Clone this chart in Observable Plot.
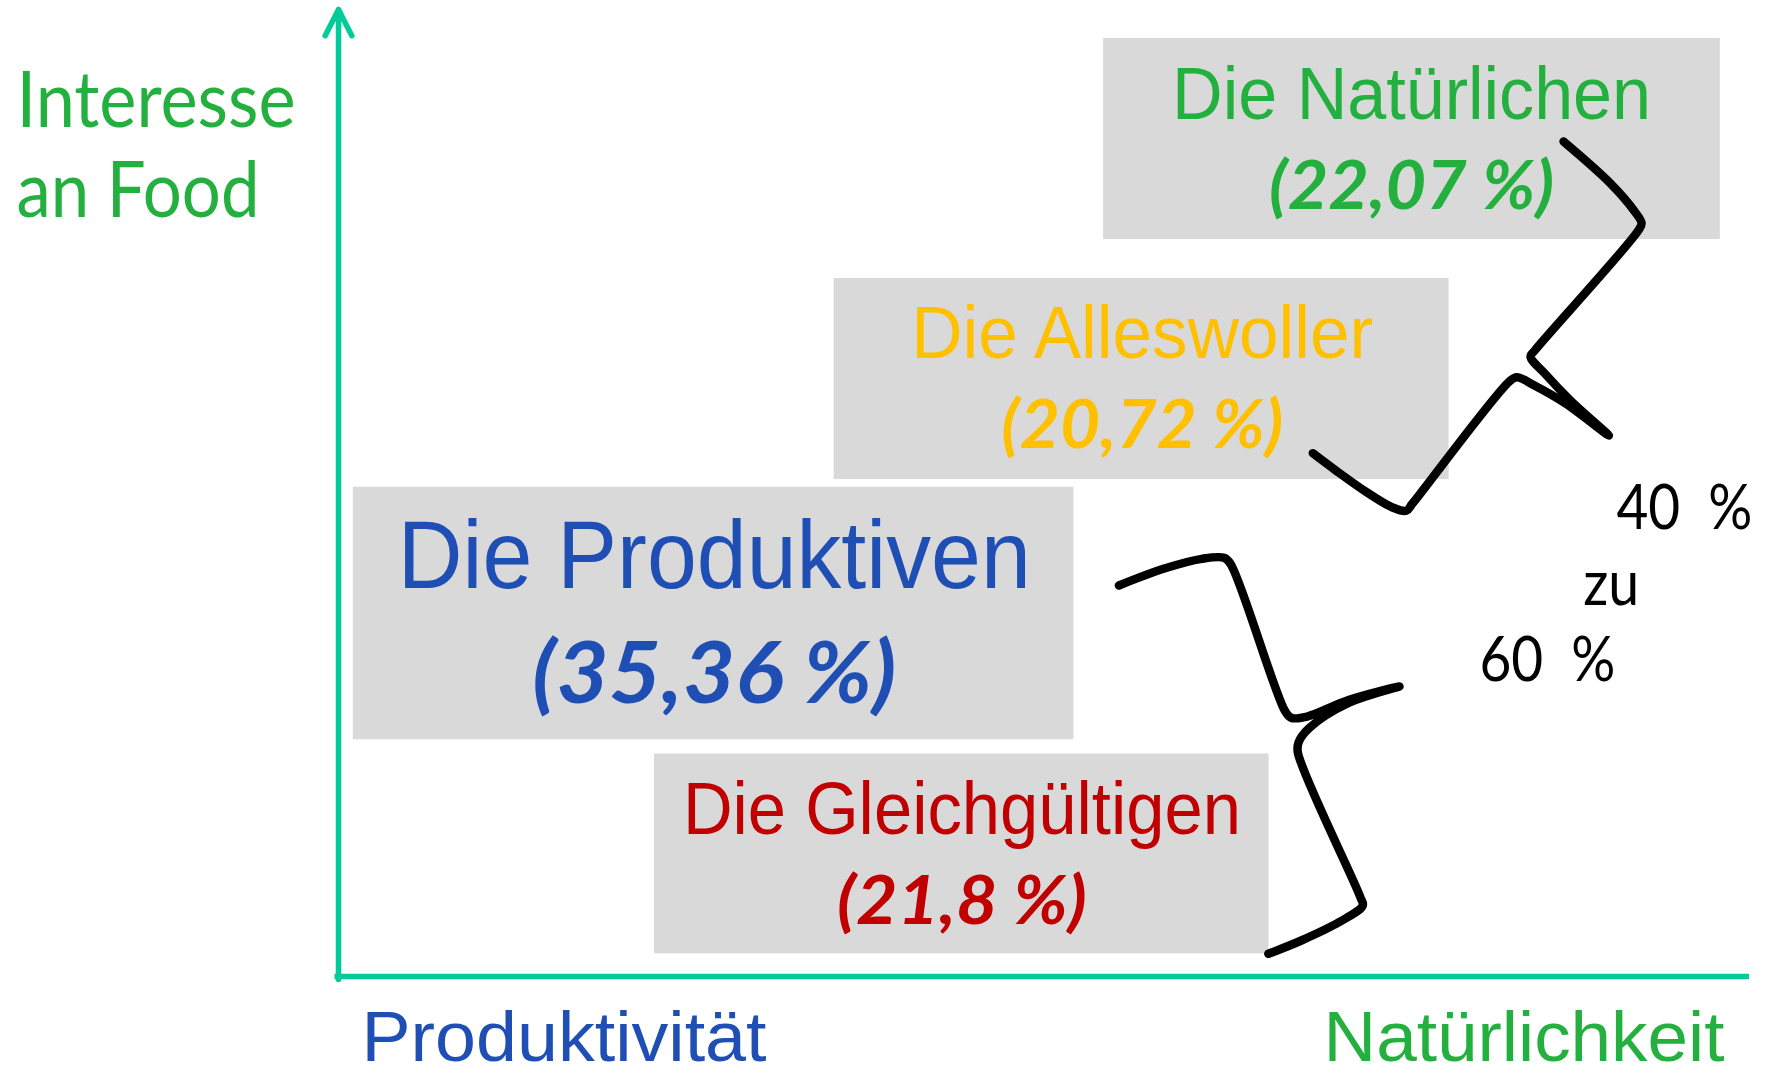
<!DOCTYPE html>
<html><head><meta charset="utf-8">
<script src="https://cdn.jsdelivr.net/npm/d3@7"></script>
<script src="https://cdn.jsdelivr.net/npm/@observablehq/plot@0.6"></script>
<style>
html,body{margin:0;padding:0;background:#fff;}
#chart svg text{white-space:pre;}
</style>
</head><body><div id="chart"></div>
<script>
// ---- data (conceptual units: x = Produktivität → Natürlichkeit 0..100, y = Interesse an Food 0..100)
const segments = ["Die Natürlichen", "Die Alleswoller", "Die Produktiven", "Die Gleichgültigen"];
const shares = ["(22,07 %)", "(20,72 %)", "(35,36 %)", "(21,8 %)"];
const boxX1 = [54.22, 35.13, 1.05, 22.40];
const boxX2 = [97.93, 78.71, 52.12, 65.95];
const boxY1 = [76.37, 51.50, 24.53, 2.35];
const boxY2 = [97.20, 72.33, 50.70, 23.06];
const labelX = [76.05, 56.96, 26.63, 44.18];
const nameY = [88.88, 64.07, 40.28, 14.79];
const shareY = [79.55, 54.75, 28.39, 5.49];

const braceUpper = [
  [86.82, 86.53], [90.15, 82.18], [91.81, 79.38], [92.35, 78.06], [92.12, 77.31],
  [84.78, 64.87], [84.48, 64.25], [85.51, 62.46], [87.31, 59.69], [90.03, 56.06],
  [86.96, 59.38], [84.76, 61.24], [83.51, 62.10], [82.98, 61.66],
  [76.10, 48.98], [75.67, 48.26], [74.66, 48.63], [72.86, 50.19], [70.68, 52.44], [69.05, 54.23]
];
const braceLower = [
  [55.31, 40.52], [58.47, 42.25], [61.18, 43.28], [62.76, 43.39], [63.22, 42.77],
  [67.06, 27.56], [67.51, 26.81], [68.65, 26.94], [71.58, 28.65], [75.19, 30.05],
  [71.58, 28.34], [68.79, 25.73], [68.04, 24.25], [67.99, 23.21],
  [72.42, 8.22], [72.59, 7.36], [70.91, 5.63], [68.24, 3.73], [65.90, 2.35]
];

const yTitle = ["Interesse", "an Food"];
const yTitleX = [-22.82, -22.82];
const yTitleY = [88.01, 78.68];
const xLabels = ["Produktivität", "Natürlichkeit"];
const xLabelX = [1.63, 98.23];
const xLabelY = [-8.75, -8.75];
const ratioText = ["40  %", "zu", "60  %"];
const ratioX = [90.57, 88.21, 80.86];
const ratioY = [46.39, 38.45, 30.67];

// ---- styles
const segColors = ["#23B03E", "#FFC000", "#1F4EB4", "#C00000"];
const green = "#23B03E", blue = "#1F4EB4", axisColor = "#00CC99", boxFill = "#D9D9D9";
const nameFont = "'Liberation Sans Narrow', 'Liberation Sans', Arial, sans-serif";
const pctFont = "Lato, 'Open Sans', sans-serif";
const textWidths = {
  "Interesse": 279, "an Food": 243,
  "Die Natürlichen": 479, "(22,07 %)": 285,
  "Die Alleswoller": 462, "(20,72 %)": 282,
  "Die Produktiven": 633, "(35,36 %)": 364,
  "Die Gleichgültigen": 558, "(21,8 %)": 250,
  "Produktivität": 405, "Natürlichkeit": 401,
  "40  %": 136, "zu": 56, "60  %": 136
};

const segs = segments.map((name, i) => ({
  name, share: shares[i], color: segColors[i],
  x1: boxX1[i], x2: boxX2[i], y1: boxY1[i], y2: boxY2[i],
  lx: labelX[i], ny: nameY[i], sy: shareY[i], big: i === 2
}));
const titleRows = yTitle.map((t, i) => ({t, x: yTitleX[i], y: yTitleY[i]}));
const ratioRows = ratioText.map((t, i) => ({t, x: ratioX[i], y: ratioY[i]}));

const chart = Plot.plot({
  width: 1769, height: 1076,
  marginLeft: 338, marginRight: 20, marginTop: 11, marginBottom: 100,
  x: {domain: [0, 100], axis: null},
  y: {domain: [0, 100], axis: null},
  style: {background: "#fff", overflow: "visible"},
  marks: [
    Plot.rect(segs, {x1: "x1", x2: "x2", y1: "y1", y2: "y2", fill: boxFill}),
    Plot.text(segs, {x: "lx", y: "ny", text: "name", fill: d => d.color, fontSize: d => d.big ? 96 : 74,
      fontFamily: nameFont, lineAnchor: "bottom", textAnchor: "middle"}),
    Plot.text(segs, {x: "lx", y: "sy", text: "share", fill: d => d.color, fontSize: d => d.big ? 86 : 67,
      fontFamily: pctFont, fontWeight: "bold", fontStyle: "italic", lineAnchor: "bottom", textAnchor: "middle"}),
    Plot.ruleY([0], {x1: -0.25, x2: 100, stroke: axisColor, strokeWidth: 5.5}),
    Plot.arrow([0], {x1: 0, y1: -0.3, x2: 0, y2: 100.2, stroke: axisColor, strokeWidth: 5.5,
      headLength: 8, headAngle: 54, strokeLinecap: "round", strokeLinejoin: "round"}),
    Plot.line(braceUpper, {x: d => d[0], y: d => d[1], stroke: "#000", strokeWidth: 8.5, curve: "catmull-rom", strokeLinejoin: "round"}),
    Plot.line(braceLower, {x: d => d[0], y: d => d[1], stroke: "#000", strokeWidth: 8.5, curve: "catmull-rom", strokeLinejoin: "round"}),
    Plot.text(titleRows, {x: "x", y: "y", text: "t", fill: green, fontSize: 77, fontFamily: pctFont,
      lineAnchor: "bottom", textAnchor: "start"}),
    Plot.text([xLabels[0]], {x: xLabelX[0], y: xLabelY[0], text: d => d, fill: blue, fontSize: 70, fontFamily: nameFont,
      lineAnchor: "bottom", textAnchor: "start"}),
    Plot.text([xLabels[1]], {x: xLabelX[1], y: xLabelY[1], text: d => d, fill: green, fontSize: 70, fontFamily: nameFont,
      lineAnchor: "bottom", textAnchor: "end"}),
    Plot.text(ratioRows, {x: "x", y: "y", text: "t", fill: "#000", fontSize: 62, fontFamily: pctFont,
      lineAnchor: "bottom", textAnchor: "start"})
  ]
});
document.getElementById("chart").appendChild(chart);
chart.querySelectorAll("text").forEach(el => {
  const w = textWidths[el.textContent];
  if (w) { el.setAttribute("textLength", w); el.setAttribute("lengthAdjust", "spacingAndGlyphs"); }
});
</script>
</body></html>
